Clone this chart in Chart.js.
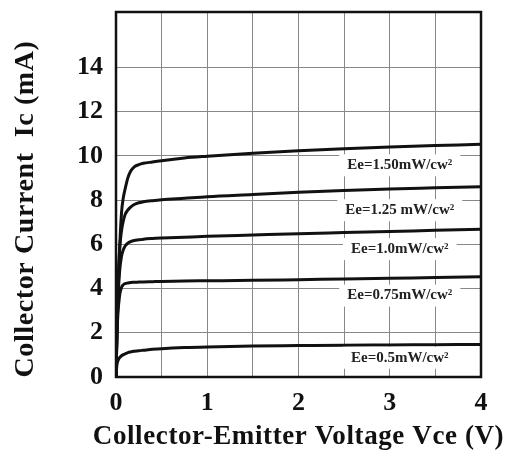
<!DOCTYPE html>
<html>
<head>
<meta charset="utf-8">
<script src="https://cdn.jsdelivr.net/npm/chart.js@4.4.1/dist/chart.umd.min.js"></script>
<style>
  html, body { margin: 0; padding: 0; background: #fff; }
  #wrap { width: 510px; height: 453px; }
</style>
</head>
<body>
<div id="wrap"><canvas id="ivChart" width="510" height="453"></canvas></div>
<script>
// Collector current vs collector-emitter voltage, one curve per irradiance
const vce = [0, 0.01, 0.02, 0.04, 0.06, 0.08, 0.1, 0.13, 0.16, 0.2, 0.25, 0.3, 0.4, 0.5, 0.75, 1, 1.5, 2, 2.5, 3, 3.5, 4];

const ic150 = [0, 1.8, 3.5, 5.8, 7.4, 8.1, 8.5, 9.0, 9.3, 9.5, 9.6, 9.66, 9.72, 9.78, 9.9, 9.98, 10.12, 10.23, 10.32, 10.4, 10.46, 10.52];
const ic125 = [0, 2.2, 4.0, 5.8, 6.6, 7.05, 7.35, 7.55, 7.68, 7.8, 7.88, 7.92, 7.97, 8.01, 8.08, 8.15, 8.25, 8.35, 8.43, 8.5, 8.55, 8.6];
const ic100 = [0, 2.0, 3.4, 4.8, 5.45, 5.75, 5.92, 6.05, 6.12, 6.17, 6.2, 6.23, 6.26, 6.28, 6.32, 6.36, 6.42, 6.48, 6.53, 6.58, 6.63, 6.68];
const ic075 = [0, 1.8, 2.8, 3.7, 4.05, 4.17, 4.22, 4.25, 4.27, 4.28, 4.29, 4.3, 4.31, 4.32, 4.34, 4.35, 4.37, 4.4, 4.43, 4.46, 4.5, 4.53];
const ic050 = [0, 0.55, 0.72, 0.88, 0.96, 1.01, 1.05, 1.1, 1.13, 1.16, 1.19, 1.21, 1.25, 1.28, 1.33, 1.36, 1.4, 1.42, 1.44, 1.45, 1.46, 1.47];

const seriesNames = ['Ee=1.50mW/cw²', 'Ee=1.25 mW/cw²', 'Ee=1.0mW/cw²', 'Ee=0.75mW/cw²', 'Ee=0.5mW/cw²'];
const seriesValues = [ic150, ic125, ic100, ic075, ic050];

const vceTicks = [0, 0.5, 1, 1.5, 2, 2.5, 3, 3.5, 4];
const icTicks = [0, 2, 4, 6, 8, 10, 12, 14];

// where each curve's label sits (Vce, Ic)
const labelVce = 3.11;
const labelIc = [9.57, 7.54, 5.78, 3.68, 0.87];

const serif = "'Liberation Serif', 'Times New Roman', serif";

const framePlugin = {
    id: 'frame',
    afterDatasetsDraw(chart) {
        const { ctx, chartArea: a } = chart;
        ctx.save();
        ctx.strokeStyle = '#111';
        ctx.lineWidth = 2.5;
        ctx.strokeRect(a.left, a.top, a.right - a.left, a.bottom - a.top);
        ctx.restore();
    }
};

const curveLabels = {
    id: 'curveLabels',
    afterDraw(chart) {
        const { ctx, scales: { x, y } } = chart;
        ctx.save();
        ctx.font = 'bold 15px ' + serif;
        ctx.textAlign = 'center';
        ctx.textBaseline = 'middle';
        seriesNames.forEach((name, i) => {
            const px = x.getPixelForValue(labelVce);
            const py = y.getPixelForValue(labelIc[i]);
            const w = ctx.measureText(name).width + 16;
            ctx.fillStyle = '#fff';
            ctx.fillRect(px - w / 2, py - 11, w, 22);
            ctx.fillStyle = '#222';
            ctx.fillText(name, px, py);
        });
        ctx.restore();
    }
};

// axis titles, drawn by hand so the wide lettering of the original fits
const axisTitles = {
    id: 'axisTitles',
    afterDraw(chart) {
        const { ctx, chartArea: a } = chart;
        ctx.save();
        ctx.fillStyle = '#111';
        ctx.textAlign = 'center';
        ctx.textBaseline = 'middle';
        ctx.letterSpacing = '0.6px';
        ctx.font = 'bold 27px ' + serif;
        ctx.fillText('Collector-Emitter Voltage Vce (V)', (a.left + a.right) / 2, 437);
        ctx.font = 'bold 28px ' + serif;
        ctx.translate(26, 209);
        ctx.rotate(-Math.PI / 2);
        ctx.fillText('Collector Current  Ic (mA)', 0, 0);
        ctx.restore();
    }
};

const ctx = document.getElementById('ivChart').getContext('2d');
new Chart(ctx, {
    type: 'line',
    data: {
        datasets: seriesValues.map((vals, i) => ({
            label: seriesNames[i],
            data: vals.map((v, j) => ({ x: vce[j], y: v })),
            borderColor: '#111',
            borderWidth: 3,
            pointRadius: 0,
            cubicInterpolationMode: 'monotone',
            fill: false
        }))
    },
    options: {
        responsive: false,
        animation: false,
        layout: {
            padding: { left: 0, right: 29, top: 12, bottom: 0 }
        },
        plugins: {
            legend: { display: false },
            tooltip: { enabled: false }
        },
        scales: {
            x: {
                type: 'linear',
                min: 0,
                max: 4,
                afterBuildTicks: s => { s.ticks = vceTicks.map(v => ({ value: v })); },
                afterFit: s => { s.height = 76; s.paddingLeft = 0; s.paddingRight = 0; },
                grid: { color: '#888', lineWidth: 1, drawTicks: false },
                border: { display: false },
                ticks: {
                    padding: 11,
                    color: '#111',
                    font: { family: serif, size: 26, weight: 'bold' },
                    callback: v => Number.isInteger(v) ? String(v) : ''
                }
            },
            y: {
                min: 0,
                max: 16.5,
                afterBuildTicks: s => { s.ticks = icTicks.map(v => ({ value: v })); },
                afterFit: s => { s.width = 116; s.paddingTop = 0; s.paddingBottom = 0; },
                grid: { color: '#888', lineWidth: 1, drawTicks: false },
                border: { display: false },
                ticks: {
                    padding: 13,
                    color: '#111',
                    font: { family: serif, size: 26, weight: 'bold' }
                }
            }
        }
    },
    plugins: [framePlugin, curveLabels, axisTitles]
});
</script>
</body>
</html>
